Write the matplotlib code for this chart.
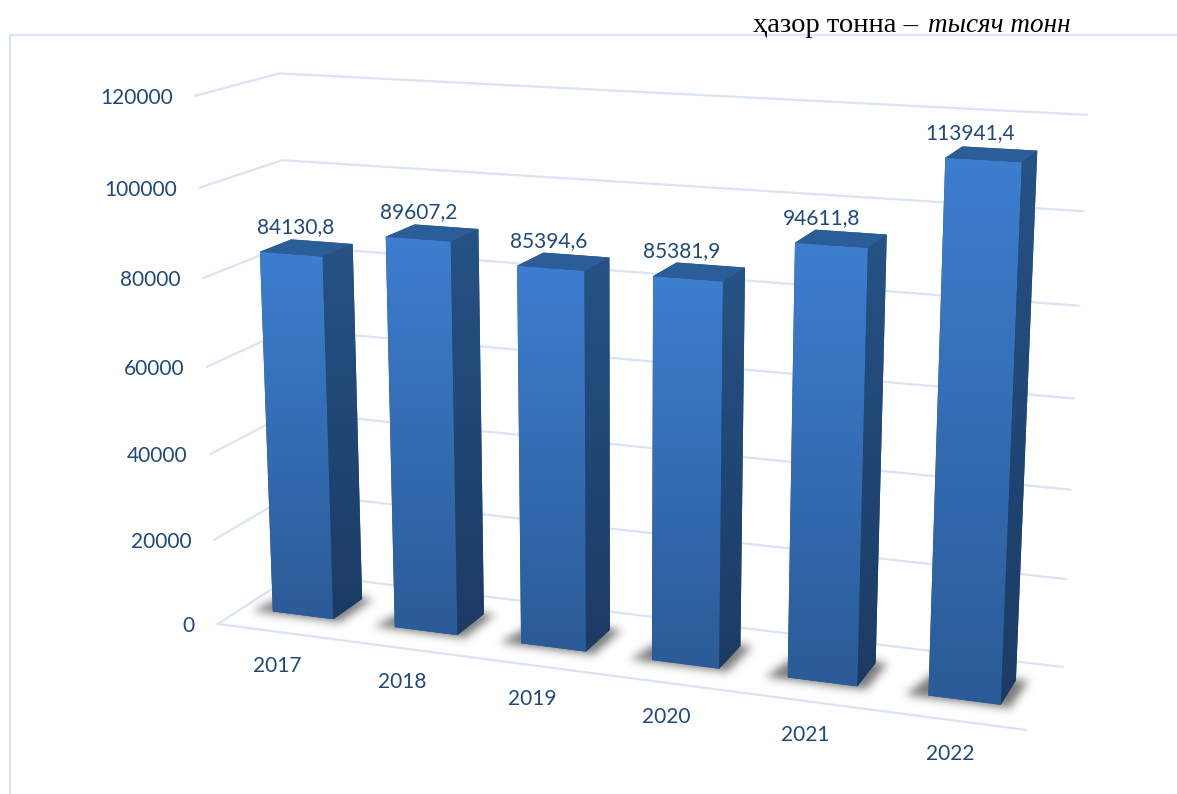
import numpy as np
import matplotlib
matplotlib.use('Agg')
import matplotlib.pyplot as plt
from matplotlib.colors import LinearSegmentedColormap
from matplotlib.patches import Polygon
from matplotlib.path import Path

# Datos del grafico
years = ['2017', '2018', '2019', '2020', '2021', '2022']
values = [84130.8, 89607.2, 85394.6, 85381.9, 94611.8, 113941.4]
y_ticks = [0, 20000, 40000, 60000, 80000, 100000, 120000]

W, H = 1177, 794
TEXT = '#1F497D'
GRID = '#D9E5F4'

# Puntos de calibracion de la camara: (categoria, profundidad, valor) -> pixel
cal_3d = [(0, 0, 0), (0, 1, 0), (6, 1, 0), (6, 0, 0),
          (0, 0, 120000), (0, 1, 120000), (6, 1, 120000),
          (0, 0, 100000), (0, 1, 100000), (6, 1, 100000),
          (0, 0, 20000), (6, 1, 20000)]
cal_px = [(218, 623), (295, 574), (1062, 667), (1026, 730),
          (195, 96), (280, 73), (1086, 115),
          (199, 188), (283, 160), (1084, 211),
          (215, 540), (1066, 579)]


def fit_camera(pts3, pts2):
    rows = []
    for (x, z, v), (u, w) in zip(pts3, pts2):
        v = v / 120000
        rows.append([x, z, v, 1, 0, 0, 0, 0, -u*x, -u*z, -u*v, -u])
        rows.append([0, 0, 0, 0, x, z, v, 1, -w*x, -w*z, -w*v, -w])
    _, _, vt = np.linalg.svd(np.array(rows, dtype=float))
    return vt[-1].reshape(3, 4)


P = fit_camera(cal_3d, cal_px)


def proj(x, z, v):
    p = P @ np.array([x, z, v / 120000, 1.0])
    return p[0] / p[2], p[1] / p[2]


fig = plt.figure(figsize=(W / 100, H / 100), dpi=100)
ax = fig.add_axes([0, 0, 1, 1])
ax.set_xlim(0, W)
ax.set_ylim(H, 0)
ax.axis('off')

# Marco del grafico
ax.plot([10, 10, W], [H, 35, 35], color=GRID, lw=1.6, zorder=1)

# Rejilla
for t in y_ticks:
    a, b, c = proj(0, 0, t), proj(0, 1, t), proj(6, 1, t)
    ax.plot([a[0], b[0], c[0]], [a[1], b[1], c[1]], color=GRID, lw=1.6, zorder=2,
            solid_joinstyle='miter')
    ax.text(a[0] - 23, a[1] + 2, str(t), color=TEXT, fontsize=15, family='Lato',
            ha='right', va='center')
a, b = proj(0, 0, 0), proj(6, 0, 0)
ax.plot([a[0], b[0]], [a[1], b[1]], color=GRID, lw=1.6, zorder=2)

front_cmap = LinearSegmentedColormap.from_list('front', ['#3D7ED0', '#2B5B97'])
side_cmap = LinearSegmentedColormap.from_list('side', ['#265285', '#1B3B64'])
ramp = np.linspace(0, 1, 256).reshape(-1, 1)
bar_w = 0.5
z0, z1 = 0.31, 0.70


def gradient_face(corners, cmap, zorder):
    xs, ys = zip(*corners)
    im = ax.imshow(ramp, cmap=cmap, aspect='auto', zorder=zorder, vmin=0, vmax=1,
                   extent=(min(xs), max(xs), max(ys), min(ys)))
    im.set_clip_path(Polygon(corners, closed=True, transform=ax.transData))


def soft_shadow(foot, sigma=4.5, peak=0.68):
    # Sombra difusa: mascara del poligono suavizada con un nucleo gaussiano
    foot = np.array(foot)
    left, right = int(foot[:, 0].min()) - 20, int(foot[:, 0].max()) + 20
    top, bottom = int(foot[:, 1].min()) - 20, int(foot[:, 1].max()) + 20
    gx, gy = np.meshgrid(np.arange(left, right), np.arange(top, bottom))
    pts = np.column_stack([gx.ravel() + 0.5, gy.ravel() + 0.5])
    mask = Path(foot).contains_points(pts).reshape(gx.shape).astype(float)
    r = np.arange(-14, 15)
    kern = np.exp(-r**2 / (2 * sigma**2))
    kern /= kern.sum()
    mask = np.apply_along_axis(lambda m: np.convolve(m, kern, mode='same'), 0, mask)
    mask = np.apply_along_axis(lambda m: np.convolve(m, kern, mode='same'), 1, mask)
    rgba = np.zeros(mask.shape + (4,))
    rgba[..., :3] = 0.22
    rgba[..., 3] = mask * peak
    ax.imshow(rgba, extent=(left, right, bottom, top), aspect='auto', zorder=3,
              interpolation='bilinear')


for i, (year, val) in enumerate(zip(years, values)):
    x0 = i + (1 - bar_w) / 2
    x1 = x0 + bar_w
    fl0, fr0 = proj(x0, z0, 0), proj(x1, z0, 0)
    bl0, br0 = proj(x0, z1, 0), proj(x1, z1, 0)
    fl1, fr1 = proj(x0, z0, val), proj(x1, z0, val)
    bl1, br1 = proj(x0, z1, val), proj(x1, z1, val)

    soft_shadow([proj(x0 - 0.15, z0 - 0.03, 0), proj(x1 + 0.07, z0 - 0.03, 0),
                 proj(x1 + 0.08, z1 + 0.02, 0), proj(x0 - 0.05, z1 + 0.02, 0)])

    # Silueta base para que no queden rendijas entre caras
    ax.add_patch(Polygon([fl0, fr0, br0, br1, bl1, fl1], closed=True, facecolor='#264F82',
                         edgecolor='none', zorder=4))
    gradient_face([fl1, fr1, fr0, fl0], front_cmap, 5)
    gradient_face([fr1, br1, br0, fr0], side_cmap, 5)
    ax.add_patch(Polygon([fl1, fr1, br1, bl1], closed=True, facecolor='#2B5E99',
                         edgecolor='none', zorder=5))

    cx, cy = proj(i + 0.5, 0.5, val)
    ax.text(cx - 11 - 2 * i, cy - 21, f'{val:.1f}'.replace('.', ','), color=TEXT, fontsize=15,
            family='Lato', ha='center', va='center', zorder=6)
    lx, ly = proj(i + 0.5, 0, 0)
    ax.text(lx - 1, ly + 34, year, color=TEXT, fontsize=15, family='Lato',
            ha='center', va='center', zorder=6)

ax.set_xlim(0, W)
ax.set_ylim(H, 0)

# Unidad de medida
head = ax.text(753, 32, 'ҳазор тонна – ', color='black', fontsize=20.5,
               family='Liberation Serif', ha='left', va='baseline')
fig.canvas.draw()
bb = head.get_window_extent()
ax.text(bb.x1 + 3, 32, 'тысяч тонн', color='black', fontsize=19.5, style='italic',
        family='Liberation Serif', ha='left', va='baseline')

fig.savefig('out.png', dpi=100)
